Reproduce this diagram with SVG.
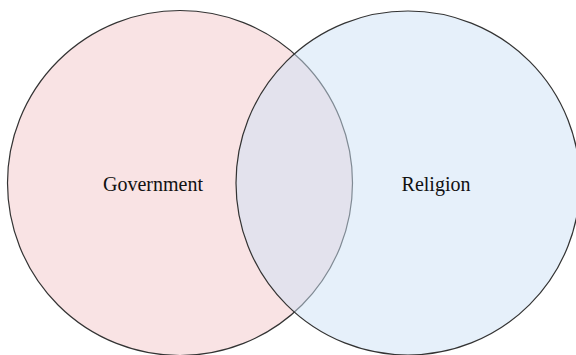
<svg xmlns="http://www.w3.org/2000/svg" width="576" height="355" viewBox="0 0 576 355">
  <style>
    .lbl { font-family: "Liberation Serif", "Times New Roman", serif; font-size: 20px; fill: #111; text-anchor: middle; }
    .c { stroke: #333; stroke-width: 1.2; }
  </style>
  <rect width="576" height="355" fill="#ffffff"/>
  <g id="government">
    <circle class="c" cx="180" cy="183" r="172.5" fill="#f9e3e4"/>
    <text class="lbl" x="153" y="191">Government</text>
  </g>
  <g id="religion">
    <circle class="c" cx="408" cy="183" r="172" fill="#cde1f5" fill-opacity="0.5"/>
    <text class="lbl" x="436" y="191">Religion</text>
  </g>
  <g id="connectors"></g>
</svg>
